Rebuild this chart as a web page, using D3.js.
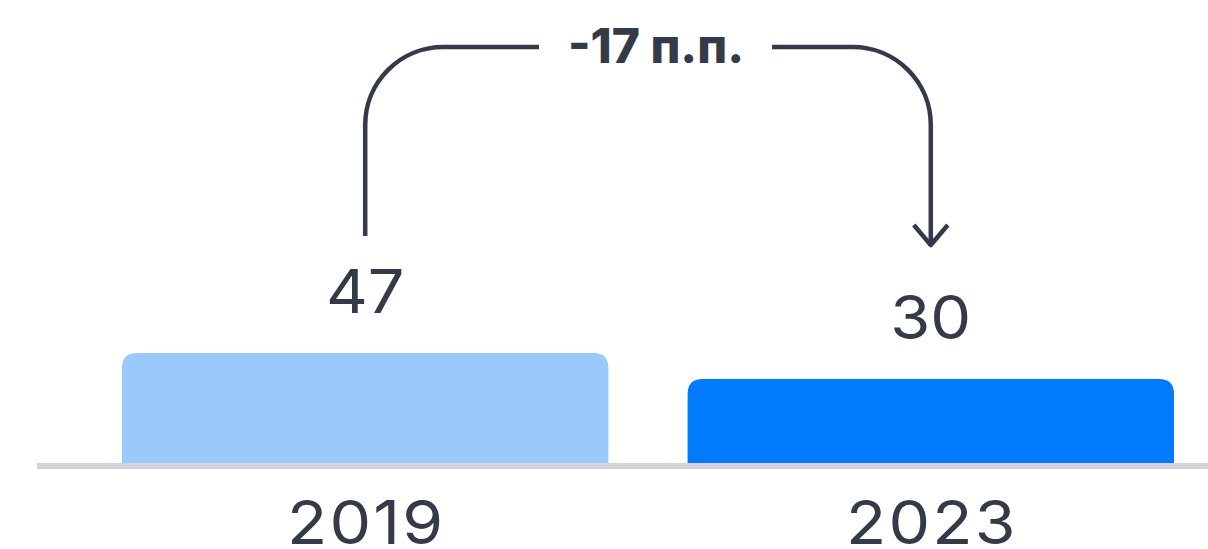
<!DOCTYPE html>
<html>
<head>
<meta charset="utf-8">
<script src="https://cdn.jsdelivr.net/npm/d3@7"></script>
<style>
  html, body { margin: 0; padding: 0; background: #fff; }
  svg { display: block; font-family: Inter, "Noto Sans", sans-serif; }
</style>
</head>
<body>
<svg id="chart" width="1208" height="549"></svg>
<script>
const years = ["2019", "2023"];
const values = [47, 30];
const barColors = ["#99cafb", "#007bfe"];
const deltaLabel = "-17 п.п.";

const svg = d3.select("#chart");
const ink = "#343a48";

const x = d3.scaleBand()
  .domain(years)
  .range([122, 1174])
  .paddingInner(0.14)
  .paddingOuter(0);

// the chart's bars don't start at zero, so the domain has a negative floor
const y = d3.scaleLinear()
  .domain([-25, 47])
  .range([463, 353]);

const r = 15;
function topRounded(x0, y0, w, h) {
  return `M${x0},${y0 + h} V${y0 + r} Q${x0},${y0} ${x0 + r},${y0} H${x0 + w - r} Q${x0 + w},${y0} ${x0 + w},${y0 + r} V${y0 + h} Z`;
}

svg.selectAll(".bar")
  .data(years)
  .enter().append("path")
  .attr("class", "bar")
  .attr("fill", (d, i) => barColors[i])
  .attr("d", (d, i) => topRounded(x(d), y(values[i]), x.bandwidth(), y(-25) - y(values[i])));

// baseline
svg.append("rect")
  .attr("x", 37)
  .attr("y", y(-25))
  .attr("width", 1208 - 37)
  .attr("height", 6)
  .attr("fill", "#d3d4d9");

// value labels (stretched a little, the original face is wider)
svg.selectAll(".val")
  .data(years)
  .enter().append("text")
  .attr("class", "val")
  .attr("transform", (d, i) => `translate(${x(d) + x.bandwidth() / 2},${y(values[i]) - 40}) scale(1.08,1)`)
  .attr("text-anchor", "middle")
  .attr("font-size", 60)
  .attr("fill", ink)
  .text((d, i) => values[i]);

// category labels
svg.selectAll(".cat")
  .data(years)
  .enter().append("text")
  .attr("class", "cat")
  .attr("transform", d => `translate(${x(d) + x.bandwidth() / 2 + 1},544) scale(1.1,1)`)
  .attr("text-anchor", "middle")
  .attr("font-size", 60)
  .attr("letter-spacing", 2)
  .attr("fill", ink)
  .text(d => d);

// change annotation
const xa = x(years[0]) + x.bandwidth() / 2;
const xb = x(years[1]) + x.bandwidth() / 2;
const topY = 47, rad = 78;
const midX = (xa + xb) / 2;

const ann = svg.append("g")
  .attr("fill", "none")
  .attr("stroke", ink)
  .attr("stroke-width", 4.5);

ann.append("path")
  .attr("d", `M${xa},${y(values[0]) - 117} V${topY + rad} A${rad},${rad} 0 0 1 ${xa + rad},${topY} H${midX - 109}`);

ann.append("path")
  .attr("d", `M${midX + 124},${topY} H${xb - rad} A${rad},${rad} 0 0 1 ${xb},${topY + rad} V${y(values[1]) - 133}`);

ann.append("path")
  .attr("stroke-linejoin", "round")
  .attr("d", `M${xb - 17},${y(values[1]) - 154} L${xb},${y(values[1]) - 134} L${xb + 17},${y(values[1]) - 154}`);

svg.append("text")
  .attr("x", midX + 8)
  .attr("y", 63)
  .attr("text-anchor", "middle")
  .attr("font-size", 48)
  .attr("font-weight", 800)
  .attr("fill", ink)
  .text(deltaLabel);
</script>
</body>
</html>
